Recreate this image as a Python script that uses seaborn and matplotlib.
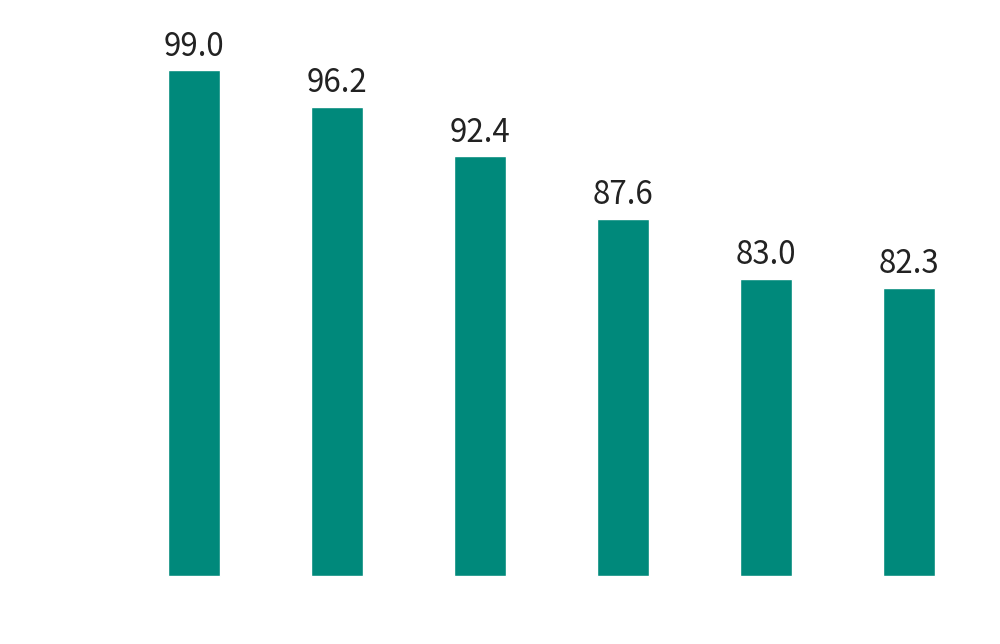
import matplotlib
matplotlib.use("Agg")
import matplotlib.pyplot as plt
import seaborn as sns
import pandas as pd

categories = ["A", "B", "C", "D", "E", "F"]
values = [99.0, 96.2, 92.4, 87.6, 83.0, 82.3]
baseline = 60.2

sns.set_theme(style="white")
plt.rcParams['font.family'] = ['Noto Sans CJK SC', 'DejaVu Sans']

df = pd.DataFrame({"cat": categories, "val": values})

fig = plt.figure(figsize=(10, 6.44), dpi=100)
ax = fig.add_axes([0, 0, 1, 1])
sns.barplot(data=df, x="cat", y="val", color="#00897B", saturation=1, width=0.364, ax=ax)

# bars start from the axis baseline, not zero
for p, v in zip(ax.patches, values):
    p.set_y(baseline)
    p.set_height(v - baseline)

for i, v in enumerate(values):
    ax.text(i, v + 0.6, f"{v:.1f}", ha="center", va="bottom", fontsize=22.5, color="#222222")

ax.set_xlim(-1.357, 5.636)
ax.set_ylim(55.0, 104.4)
ax.axis("off")

fig.savefig("out.png", dpi=100)
